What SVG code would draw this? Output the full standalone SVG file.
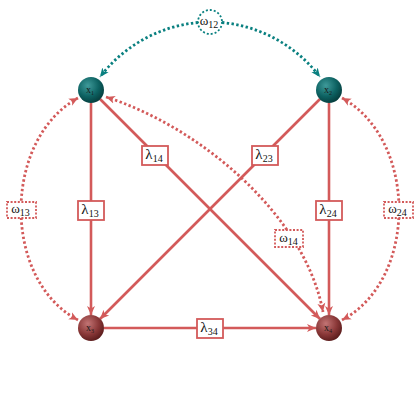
<svg xmlns="http://www.w3.org/2000/svg" width="420" height="420" viewBox="0 0 420 420">
<style>
.solid{fill:none;stroke:#d35a5a;stroke-width:2.6}
.dot{fill:none;stroke:#d35a5a;stroke-width:2.8;stroke-dasharray:2.4 2.4}
.tdot{fill:none;stroke:#0a8080;stroke-width:2.8;stroke-dasharray:2.4 2.4}
.lbox{fill:#fff;stroke:#d35a5a;stroke-width:1.8}
.wbox{fill:#fff;stroke:#d35a5a;stroke-width:1.8;stroke-dasharray:2 1.6}
.lt{font-family:"Liberation Serif","DejaVu Serif",serif;font-size:15px;fill:#111;text-anchor:middle}
.sub{font-size:10px}
.nt{font-family:"Liberation Serif","DejaVu Serif",serif;font-size:10px;fill:#1a1a1a;text-anchor:middle}
</style>
<defs>
<marker id="ar" markerUnits="userSpaceOnUse" markerWidth="12" markerHeight="12" refX="9" refY="4" orient="auto-start-reverse" viewBox="0 0 12 8">
<path d="M0,0 L9,4 L0,8 L2.5,4 z" fill="#d35a5a"/>
</marker>
<marker id="at" markerUnits="userSpaceOnUse" markerWidth="12" markerHeight="12" refX="9" refY="4" orient="auto-start-reverse" viewBox="0 0 12 8">
<path d="M0,0 L9,4 L0,8 L2.5,4 z" fill="#0a8080"/>
</marker>
<radialGradient id="gt" cx="0.38" cy="0.33" r="0.7">
<stop offset="0" stop-color="#3f9a9a"/>
<stop offset="0.6" stop-color="#0d6262"/>
<stop offset="1" stop-color="#063d3d"/>
</radialGradient>
<radialGradient id="gr" cx="0.38" cy="0.33" r="0.7">
<stop offset="0" stop-color="#c27474"/>
<stop offset="0.6" stop-color="#8a3838"/>
<stop offset="1" stop-color="#5a1c1c"/>
</radialGradient>
</defs>
<g id="connectors">
<path class="tdot" d="M198,22.5 A139.5 139.5 0 0 0 100,77" marker-end="url(#at)"/>
<path class="tdot" d="M222,22.5 A139.5 139.5 0 0 1 320,77" marker-end="url(#at)"/>
<path class="dot" d="M78,98 C2,140 2,280 78,320" marker-start="url(#ar)" marker-end="url(#ar)"/>
<path class="dot" d="M342,98 C418,140 418,280 342,320" marker-start="url(#ar)" marker-end="url(#ar)"/>
<path class="dot" d="M106,97 C200,127 305,215 323,312" marker-start="url(#ar)" marker-end="url(#ar)"/>
<line class="solid" x1="91" y1="103" x2="91" y2="315" marker-end="url(#ar)"/>
<line class="solid" x1="329" y1="103" x2="329" y2="315" marker-end="url(#ar)"/>
<line class="solid" x1="104" y1="328" x2="316" y2="328" marker-end="url(#ar)"/>
<line class="solid" x1="100" y1="99" x2="320" y2="319" marker-end="url(#ar)"/>
<line class="solid" x1="320" y1="99" x2="100" y2="319" marker-end="url(#ar)"/>
</g>
<g id="label-w12">
<circle cx="210" cy="22" r="12" fill="#fff" stroke="#0a8080" stroke-width="1.8" stroke-dasharray="2 2"/>
<text class="lt" x="209" y="25" style="font-size:13px">ω<tspan class="sub" dy="3">12</tspan></text>
</g>
<g id="label-w13">
<rect class="wbox" x="7" y="202" width="29" height="16"/>
<text class="lt" x="20.5" y="213" style="font-size:13px">ω<tspan class="sub" dy="3">13</tspan></text>
</g>
<g id="label-w24">
<rect class="wbox" x="384" y="202" width="29" height="16"/>
<text class="lt" x="397.5" y="213" style="font-size:13px">ω<tspan class="sub" dy="3">24</tspan></text>
</g>
<g id="label-w14">
<rect class="wbox" x="275" y="230" width="28" height="17"/>
<text class="lt" x="288.5" y="241.5" style="font-size:13px">ω<tspan class="sub" dy="3">14</tspan></text>
</g>
<g id="label-l13">
<rect class="lbox" x="78" y="201" width="26" height="19"/>
<text class="lt" x="90" y="214">λ<tspan class="sub" dy="3">13</tspan></text>
</g>
<g id="label-l24">
<rect class="lbox" x="316" y="201" width="26" height="19"/>
<text class="lt" x="328" y="214">λ<tspan class="sub" dy="3">24</tspan></text>
</g>
<g id="label-l14">
<rect class="lbox" x="142" y="146" width="26" height="19"/>
<text class="lt" x="154" y="159">λ<tspan class="sub" dy="3">14</tspan></text>
</g>
<g id="label-l23">
<rect class="lbox" x="252" y="146" width="26" height="19"/>
<text class="lt" x="264" y="159">λ<tspan class="sub" dy="3">23</tspan></text>
</g>
<g id="label-l34">
<rect class="lbox" x="197" y="319" width="26" height="19"/>
<text class="lt" x="209" y="332">λ<tspan class="sub" dy="3">34</tspan></text>
</g>
<g id="x1">
<circle cx="91" cy="90" r="13" fill="url(#gt)"/>
<text class="nt" x="90" y="93">x<tspan style="font-size:6px" dy="2">1</tspan></text>
</g>
<g id="x2">
<circle cx="329" cy="90" r="13" fill="url(#gt)"/>
<text class="nt" x="328" y="93">x<tspan style="font-size:6px" dy="2">2</tspan></text>
</g>
<g id="x3">
<circle cx="91" cy="328" r="13" fill="url(#gr)"/>
<text class="nt" x="90" y="331">x<tspan style="font-size:6px" dy="2">3</tspan></text>
</g>
<g id="x4">
<circle cx="329" cy="328" r="13" fill="url(#gr)"/>
<text class="nt" x="328" y="331">x<tspan style="font-size:6px" dy="2">4</tspan></text>
</g>
</svg>
